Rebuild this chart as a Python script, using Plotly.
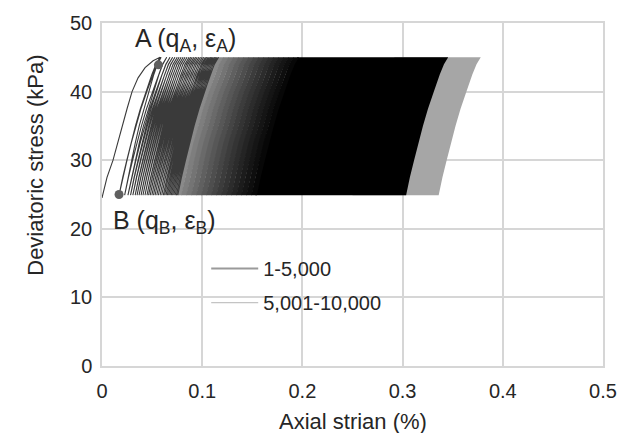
import plotly.graph_objects as go

# ---------------- data ----------------
# cycle-loop shape: fraction of the loop's strain width reached at each stress level
shape_stress = [24.9, 27.5, 30.0, 32.5, 35.0, 37.5, 40.0, 42.5, 44.0, 45.0]
shape_frac = [0.0, 0.09, 0.19, 0.29, 0.40, 0.52, 0.66, 0.80, 0.90, 1.0]
loop_width = 0.042  # strain gained between trough (25 kPa) and peak (45 kPa)

# first loading curve
first_load_strain = [0.0, 0.005, 0.011, 0.0155, 0.020, 0.025, 0.030, 0.036, 0.043, 0.051, 0.058]
first_load_stress = [24.5, 27.5, 30.0, 32.5, 35.0, 37.5, 40.0, 42.0, 43.5, 44.5, 45.0]

# trough strains (at ~25 kPa) of the early, individually visible cycles
early_troughs = [0.0170, 0.0226, 0.0259, 0.0285, 0.0308, 0.0331, 0.0350, 0.0370,
                 0.0390, 0.0409, 0.0429, 0.0449, 0.0465, 0.0481, 0.0498, 0.0514,
                 0.0530, 0.0547, 0.0563, 0.0580, 0.0596, 0.0612, 0.0625, 0.0639,
                 0.0652, 0.0665, 0.0678, 0.0691, 0.0704, 0.0717, 0.0730, 0.0743,
                 0.0756]

# densely packed cycles 1-5,000: bands of trough strain and their apparent shade
band_edges = [0.074, 0.079, 0.084, 0.089, 0.094, 0.099, 0.104, 0.109, 0.114,
              0.119, 0.124, 0.129, 0.134, 0.139, 0.144, 0.149, 0.154]
band_colors = ['#8a8a8a', '#7e7e7e', '#747474', '#6a6a6a', '#606060', '#575757',
               '#4e4e4e', '#454545', '#3c3c3c', '#343434', '#2c2c2c', '#242424',
               '#1c1c1c', '#151515', '#0e0e0e', '#070707']
dense_end_1 = 0.3035     # trough strain of cycle 5,000
dense_end_2 = 0.3360     # trough strain of cycle 10,000

# marked points
point_A = (0.0563, 43.9)
point_B = (0.0170, 25.0)

# ---------------- helpers ----------------
def edge(b, width=loop_width, rev=False):
    xs = [b + width * f for f in shape_frac]
    ys = list(shape_stress)
    if rev:
        xs, ys = xs[::-1], ys[::-1]
    return xs, ys

def band(b0, b1):
    xl, yl = edge(b0)
    xr, yr = edge(b1, rev=True)
    return xl + xr + [xl[0]], yl + yr + [yl[0]]

fig = go.Figure()

# cycles 5,001-10,000 (grey)
gx, gy = band(0.25, dense_end_2)
fig.add_trace(go.Scatter(x=gx, y=gy, fill='toself', fillcolor='#a6a6a6',
                         mode='lines', line=dict(width=0, color='#a6a6a6'),
                         showlegend=False, hoverinfo='skip'))
# cycles 1-5,000 solid part
bx, by = band(band_edges[-1] - 0.001, dense_end_1)
fig.add_trace(go.Scatter(x=bx, y=by, fill='toself', fillcolor='#000000',
                         mode='lines', line=dict(width=0, color='#000000'),
                         showlegend=False, hoverinfo='skip'))
# transition bands
for i, c in enumerate(band_colors):
    tx, ty = band(band_edges[i], band_edges[i + 1] + 0.0006)
    fig.add_trace(go.Scatter(x=tx, y=ty, fill='toself', fillcolor=c,
                             mode='lines', line=dict(width=0, color=c),
                             showlegend=False, hoverinfo='skip'))

# individual early loops
lx = list(first_load_strain)
ly = list(first_load_stress)
peak = first_load_strain[-1]
for i, t in enumerate(early_troughs):
    ux, uy = edge(t, width=peak - t, rev=True)   # unloading to trough t
    lx += ux[1:]
    ly += uy[1:]
    if i < len(early_troughs) - 1:
        px, py = edge(t)                          # reloading from trough t
        lx += px[1:]
        ly += py[1:]
        peak = t + loop_width
fig.add_trace(go.Scatter(x=lx, y=ly, mode='lines',
                         line=dict(color='#3a3a3a', width=1.1),
                         showlegend=False, hoverinfo='skip'))

# markers A, B
fig.add_trace(go.Scatter(x=[point_A[0], point_B[0]], y=[point_A[1], point_B[1]],
                         mode='markers', marker=dict(color='#5f5f5f', size=9),
                         showlegend=False, hoverinfo='skip'))

# legend entries
fig.add_trace(go.Scatter(x=[None], y=[None], mode='lines', name='1-5,000',
                         legendgroup='a', line=dict(color='#9a9a9a', width=2)))
fig.add_trace(go.Scatter(x=[None], y=[None], mode='lines', name='5,001-10,000',
                         legendgroup='b', line=dict(color='#c4c4c4', width=1.2)))

font_family = 'Liberation Sans, Arial, sans-serif'
grid = '#d6d6d6'

fig.update_layout(
    width=629, height=433,
    margin=dict(l=102, r=18, t=20, b=67),
    paper_bgcolor='white', plot_bgcolor='white',
    font=dict(family=font_family, color='#262626', size=20),
    xaxis=dict(range=[0, 0.5], dtick=0.1, tick0=0, showgrid=True, gridcolor=grid,
               gridwidth=1.5, zeroline=False, showline=True, linecolor=grid,
               linewidth=1.5, mirror=True, ticks='', tickfont=dict(size=20),
               tickformat='.1~f', ticklabelstandoff=6),
    yaxis=dict(range=[0, 50], dtick=10, tick0=0, showgrid=True, gridcolor=grid,
               gridwidth=1.5, zeroline=False, showline=True, linecolor=grid,
               linewidth=1.5, mirror=True, ticks='', tickfont=dict(size=20),
               ticklabelstandoff=4),
    legend=dict(x=0.208, y=0.341, xanchor='left', yanchor='top',
                bgcolor='rgba(0,0,0,0)', font=dict(size=20), itemwidth=47,
                borderwidth=0, tracegroupgap=5),
    showlegend=True,
    shapes=[dict(type='rect', xref='paper', yref='paper', layer='between',
                 x0=0.155, x1=0.607, y0=0.136, y1=0.335,
                 fillcolor='white', line=dict(width=0))],
    annotations=[
        dict(text='A (q<sub>A</sub>, ε<sub>A</sub>)', x=0.0835, y=47.5,
             xref='x', yref='y', showarrow=False, font=dict(size=25),
             xanchor='center', yanchor='middle'),
        dict(text='B (q<sub>B</sub>, ε<sub>B</sub>)', x=0.0619, y=21.0,
             xref='x', yref='y', showarrow=False, font=dict(size=25),
             xanchor='center', yanchor='middle'),
        dict(text='Deviatoric stress (kPa)', x=-0.1316, y=0.584,
             xref='paper', yref='paper', showarrow=False, textangle=-90,
             font=dict(size=22), xanchor='center', yanchor='middle'),
        dict(text='Axial strian (%)', x=0.5, y=-0.162,
             xref='paper', yref='paper', showarrow=False,
             font=dict(size=22), xanchor='center', yanchor='middle'),
    ],
)

fig.write_html('out.html')
